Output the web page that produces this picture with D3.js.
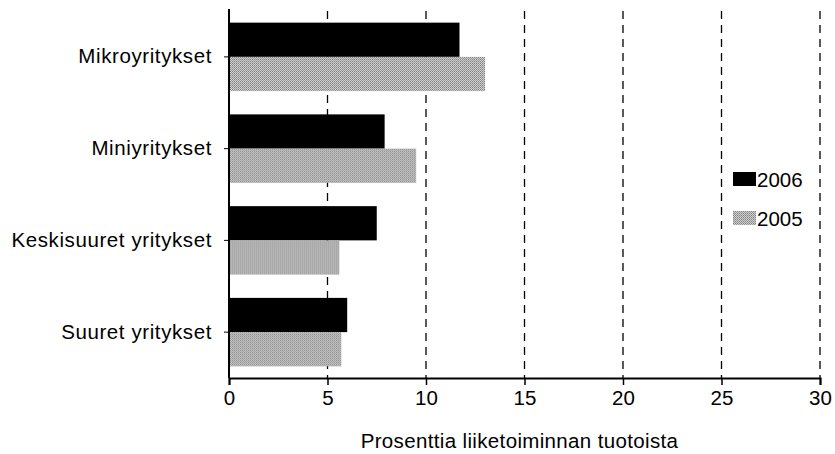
<!DOCTYPE html>
<html><head><meta charset="utf-8">
<script src="https://cdn.jsdelivr.net/npm/d3@7"></script>
<style>body{margin:0;background:#fff}svg{display:block;font-family:"Liberation Sans",Arial,sans-serif}</style>
</head><body>
<svg id="c" width="835" height="454"></svg>
<script>
const categories = ["Mikroyritykset","Miniyritykset","Keskisuuret yritykset","Suuret yritykset"];
const series = ["2006","2005"];
const values2006 = [11.7, 7.9, 7.5, 6.0];
const values2005 = [13.0, 9.5, 5.6, 5.7];
const xTicks = [0,5,10,15,20,25,30];
const xTitle = "Prosenttia liiketoiminnan tuotoista";

const svg = d3.select("#c");
const m = {l:229, r:15, t:11, b:76};
const W = 835, H = 454;
const FONT = "Liberation Sans, Arial, sans-serif";
const x = d3.scaleLinear().domain([0,30]).range([m.l, W-m.r]);
const y = d3.scaleBand().domain(categories).range([m.t, H-m.b]);
const yS = d3.scaleBand().domain(series).range([0, y.bandwidth()]).paddingOuter(0.34).paddingInner(0);

const defs = svg.append("defs");
const pat = defs.append("pattern").attr("id","stip").attr("width",2).attr("height",2).attr("patternUnits","userSpaceOnUse");
pat.append("rect").attr("width",2).attr("height",2).attr("fill","#cfcfcf");
pat.append("rect").attr("width",1).attr("height",1).attr("fill","#808080");
pat.append("rect").attr("x",1).attr("y",1).attr("width",1).attr("height",1).attr("fill","#9c9c9c");
const colors = {"2006":"#000","2005":"url(#stip)"};

// grid
svg.append("g").selectAll("line").data(xTicks.filter(d=>d>0)).join("line")
  .attr("x1",d=>x(d)).attr("x2",d=>x(d)).attr("y1",m.t).attr("y2",H-m.b)
  .attr("stroke","#000").attr("stroke-width",1.3).attr("stroke-dasharray","8,6");

const data = categories.map((c,i)=>({c, v:{"2006":values2006[i],"2005":values2005[i]}}));
const g = svg.append("g").selectAll("g").data(data).join("g").attr("transform",d=>`translate(0,${y(d.c)})`);
g.selectAll("rect").data(d=>series.map(s=>({s,v:d.v[s]}))).join("rect")
  .attr("x",x(0)).attr("y",d=>yS(d.s)).attr("width",d=>x(d.v)-x(0)).attr("height",yS.bandwidth())
  .attr("fill",d=>colors[d.s]);

// x axis
const xa = svg.append("g").attr("transform",`translate(0,${H-m.b})`)
  .call(d3.axisBottom(x).tickValues(xTicks).tickSize(7).tickPadding(5));
xa.select(".domain").attr("stroke-width",2);
xa.selectAll(".tick line").attr("stroke-width",1.5);
xa.selectAll("text").attr("font-size",20.5).attr("fill","#000").attr("font-family",FONT);

// y axis
const ya = svg.append("g").attr("transform",`translate(${m.l},0)`)
  .call(d3.axisLeft(y).tickSize(5).tickPadding(12));
ya.select(".domain").attr("stroke-width",2).attr("d",`M0,${m.t-2}V${H-m.b}`);
ya.selectAll(".tick text").attr("font-size",20.5).attr("letter-spacing",0.6).attr("fill","#000").attr("font-family",FONT);

svg.append("text").attr("x",(x(0)+x(30))/2 - 5).attr("y",448).attr("text-anchor","middle")
  .attr("font-size",20.5).attr("letter-spacing",0.35).text(xTitle);

// legend
const lg = svg.append("g").attr("transform","translate(733,171)");
series.forEach((s,i)=>{
  lg.append("rect").attr("x",0).attr("y",i*39+1).attr("width",23).attr("height",14).attr("fill",colors[s]);
  lg.append("text").attr("x",24).attr("y",i*39+16).attr("font-size",20.5).text(s);
});
</script>
</body></html>
